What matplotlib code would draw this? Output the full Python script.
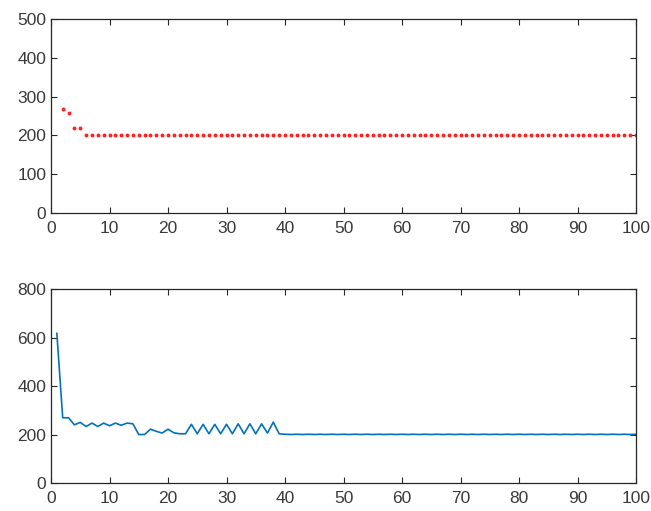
import matplotlib
matplotlib.use("Agg")
import matplotlib.pyplot as plt
import numpy as np

# Top series (red dots), x = 2..100
top_x = list(range(2, 101))
top_y = [269, 257, 218, 218] + [202] * 31 + [200] * 64

# Bottom series (blue line), x = 1..100
bot_x = list(range(1, 101))
bot_y = [617, 269, 269, 240, 250, 233, 247, 233, 247, 236,
         247, 238, 247, 244, 200, 200, 222, 213, 206, 222,
         207, 203, 203, 242, 203, 242, 203, 242, 203, 242,
         203, 244, 203, 244, 203, 244, 206, 251, 203, 201] + \
        [200, 201] * 30

x_ticks = list(range(0, 101, 10))
top_yticks = list(range(0, 501, 100))
bot_yticks = list(range(0, 801, 200))

plt.rcParams['font.family'] = ['Liberation Sans', 'DejaVu Sans']
fig = plt.figure(figsize=(6.51, 5.11), dpi=100)
W, H = 651, 511
ax1 = fig.add_axes([51 / W, 1 - 213 / H, (636 - 51) / W, (213 - 19) / H])
ax2 = fig.add_axes([51 / W, 1 - 483 / H, (636 - 51) / W, (483 - 289) / H])

ax1.plot(top_x, top_y, linestyle='none', marker='o', markersize=2.8,
         markerfacecolor='#ff2020', markeredgewidth=0, color='#ff2020')
ax1.set_xlim(0, 100)
ax1.set_ylim(0, 500)
ax1.set_xticks(x_ticks)
ax1.set_yticks(top_yticks)

ax2.plot(bot_x, bot_y, color='#0072BD', linewidth=1.2)
ax2.set_xlim(0, 100)
ax2.set_ylim(0, 800)
ax2.set_xticks(x_ticks)
ax2.set_yticks(bot_yticks)

for ax in (ax1, ax2):
    for s in ax.spines.values():
        s.set_color('#262626')
        s.set_linewidth(0.9)
    ax.tick_params(direction='in', length=4, width=0.8, colors='#262626',
                   labelsize=12.5, top=True, right=True, labelcolor='#3a3a3a')
    ax.tick_params(axis='x', pad=6)

fig.savefig('out.png', dpi=100)
